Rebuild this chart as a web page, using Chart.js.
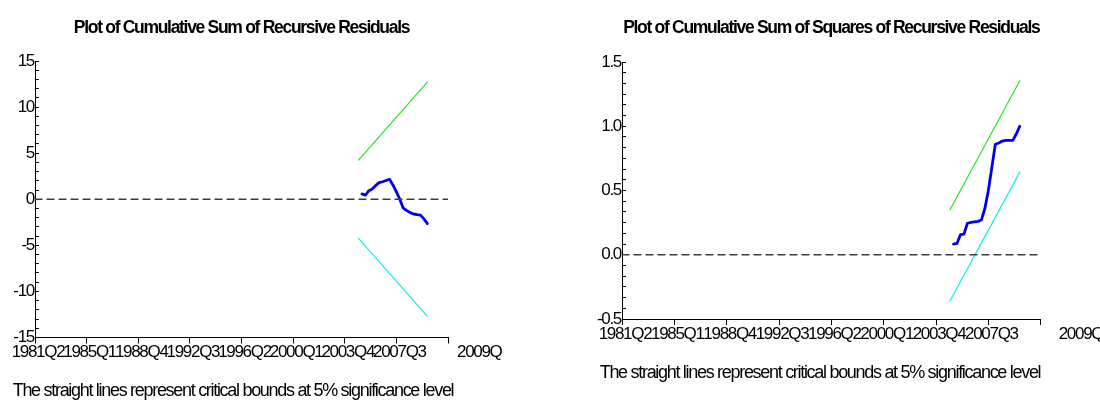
<!DOCTYPE html>
<html>
<head>
<meta charset="utf-8">
<script src="https://cdn.jsdelivr.net/npm/chart.js@4.4.1/dist/chart.umd.min.js"></script>
<style>
  html, body { margin: 0; padding: 0; background: #fff; }
  #wrap { display: flex; width: 1100px; height: 406px; }
  .box { position: relative; width: 550px; height: 406px; }
</style>
</head>
<body>
<div id="wrap">
  <div class="box"><canvas id="cusum"></canvas></div>
  <div class="box"><canvas id="cusumsq"></canvas></div>
</div>
<script>
/* CUSUM / CUSUMSQ stability plots */

const periods = [
  '2005Q1', '2005Q2', '2005Q3', '2005Q4', '2006Q1', '2006Q2', '2006Q3', '2006Q4',
  '2007Q1', '2007Q2', '2007Q3', '2007Q4', '2008Q1', '2008Q2', '2008Q3', '2008Q4',
  '2009Q1', '2009Q2', '2009Q3', '2009Q4',
];
const cusum = [
  0.58, 0.43, 0.93, 1.12, 1.5, 1.8, 1.9, 2.03, 2.17, 1.55,
  0.8, 0.0, -0.97, -1.22, -1.45, -1.6, -1.66, -1.72, -2.13, -2.65,
];
const cusumsq = [
  0.083, 0.088, 0.156, 0.16, 0.245, 0.252, 0.256, 0.26, 0.27, 0.36,
  0.5, 0.68, 0.86, 0.87, 0.885, 0.89, 0.89, 0.89, 0.94, 1.0,
];

// critical bounds (5%), endpoints
const boundPeriods = ['2004Q4', '2009Q4'];
const cusumUpper = [4.24, 12.7];
const cusumLower = [-4.24, -12.7];
const sqUpper = [0.35, 1.354];
const sqLower = [-0.36, 0.643];

const xTickLabels = ['1981Q2', '1985Q1', '1988Q4', '1992Q3', '1996Q2', '2000Q1', '2003Q4', '2007Q3'];
const xAxisEnd = '2011Q2';
const xEndLabel = '2009Q';

const titles = [
  'Plot of Cumulative Sum of Recursive Residuals',
  'Plot of Cumulative Sum of Squares of Recursive Residuals',
];
const caption = 'The straight lines represent critical bounds at 5% significance level';

function hasFont(name) {
  const c = document.createElement('canvas').getContext('2d');
  c.font = '40px monospace';
  const a = c.measureText('abcdefghiMW').width;
  c.font = `40px "${name}", monospace`;
  return c.measureText('abcdefghiMW').width !== a;
}
const NARROW = hasFont('Liberation Sans Narrow');
const FONT = NARROW ? '"Liberation Sans Narrow", "Liberation Sans", Arial, sans-serif'
                    : '"Liberation Sans", Arial, sans-serif';
const SPACING = NARROW ? '0px' : '-1.3px';

const TICK_SIZE = 17;
const CAP_SIZE = 18;
const TITLE_SIZE = 17.5;
const X_TICK_LEN = 6;
const X_TICK_PAD = -1;
const X_AXIS_H = 30;

// "2004Q4" -> quarters since 1981Q2
function qIndex(p) {
  return (parseInt(p.slice(0, 4), 10) - 1981) * 4 + (parseInt(p.slice(5), 10) - 2);
}
function pts(xs, ys) {
  return xs.map((p, i) => ({ x: qIndex(p), y: ys[i] }));
}

const decor = {
  id: 'decor',
  beforeDraw(chart) { chart.ctx.letterSpacing = SPACING; },
  afterDraw(chart, args, opts) {
    const { ctx, chartArea, scales } = chart;
    ctx.save();
    ctx.letterSpacing = SPACING;
    ctx.fillStyle = '#000';
    ctx.textBaseline = 'middle';
    ctx.textAlign = 'left';
    ctx.font = `${TICK_SIZE}px ${FONT}`;
    ctx.fillText(xEndLabel, chartArea.right + opts.endDx,
      scales.x.top + X_TICK_LEN + X_TICK_PAD + TICK_SIZE * 0.6);
    ctx.textAlign = 'center';
    ctx.font = `${CAP_SIZE}px ${FONT}`;
    ctx.fillText(caption, opts.capX, opts.capY);
    ctx.restore();
  },
};

function crearPlot(canvas, o) {
  const xMax = qIndex(xAxisEnd);
  const yTickValues = [];
  const n = Math.round((o.yMax - o.yMin) / o.yMinor);
  for (let i = 0; i <= n; i++) yTickValues.push(o.yMin + i * o.yMinor);
  const xTickValues = xTickLabels.map(qIndex).concat([xMax]);
  const titleY = 28;

  return new Chart(canvas, {
    type: 'line',
    data: {
      datasets: [
        {
          data: [{ x: 0, y: 0 }, { x: xMax, y: 0 }],
          borderColor: '#3c3c3c', borderWidth: 1.3, borderDash: [7, 5],
        },
        { data: pts(boundPeriods, o.upper), borderColor: '#22e622', borderWidth: 1.2 },
        { data: pts(boundPeriods, o.lower), borderColor: '#10eeee', borderWidth: 1.2 },
        { data: pts(periods, o.values), borderColor: '#0000f0', borderWidth: 2.8 },
      ],
    },
    options: {
      responsive: true,
      maintainAspectRatio: false,
      animation: false,
      events: [],
      elements: { point: { radius: 0 }, line: { tension: 0, borderJoinStyle: 'round', borderCapStyle: 'round' } },
      layout: {
        padding: {
          left: 0,
          top: 0,
          right: 550 - o.chartRight,
          bottom: 406 - o.chartBottom - X_AXIS_H,
        },
      },
      plugins: {
        legend: { display: false },
        tooltip: { enabled: false },
        title: {
          display: true,
          text: o.title,
          fullSize: false,
          color: '#000',
          font: { family: FONT, size: TITLE_SIZE, weight: 'bold', lineHeight: 1.2 },
          padding: { top: titleY - TITLE_SIZE * 0.6, bottom: o.chartTop - titleY - TITLE_SIZE * 0.6 },
        },
        decor: { endDx: o.endDx, capX: o.capX, capY: o.capY },
      },
      scales: {
        x: {
          type: 'linear',
          min: 0,
          max: xMax,
          afterBuildTicks(s) { s.ticks = xTickValues.map(v => ({ value: v })); },
          afterFit(s) { s.height = X_AXIS_H; },
          border: { color: '#000', width: 1 },
          grid: { drawOnChartArea: false, drawTicks: true, tickLength: X_TICK_LEN, color: '#000' },
          ticks: {
            autoSkip: false,
            maxRotation: 0,
            minRotation: 0,
            padding: X_TICK_PAD,
            labelOffset: 3,
            color: '#000',
            font: { family: FONT, size: TICK_SIZE, lineHeight: 1.2 },
            callback(v, i) { return i < xTickLabels.length ? xTickLabels[i] : ''; },
          },
        },
        y: {
          type: 'linear',
          min: o.yMin,
          max: o.yMax,
          afterBuildTicks(s) { s.ticks = yTickValues.map(v => ({ value: v })); },
          afterFit(s) { s.width = o.yAxisWidth; },
          border: { color: '#000', width: 1 },
          grid: { drawOnChartArea: false, drawTicks: true, tickLength: -4, color: '#000' },
          ticks: {
            autoSkip: false,
            padding: 5,
            color: '#000',
            font: { family: FONT, size: TICK_SIZE, lineHeight: 1.2 },
            callback(v) {
              const r = v / o.yLabelStep;
              return Math.abs(r - Math.round(r)) < 1e-6 ? Number(v).toFixed(o.decimals) : '';
            },
          },
        },
      },
    },
    plugins: [decor],
  });
}

crearPlot(document.getElementById('cusum'), {
  title: titles[0],
  values: cusum, upper: cusumUpper, lower: cusumLower,
  yMin: -15, yMax: 15, yMinor: 1, yLabelStep: 5, decimals: 0,
  yAxisWidth: 35, chartRight: 448, chartTop: 61, chartBottom: 337.5,
  endDx: 9, capX: 233, capY: 391,
});

crearPlot(document.getElementById('cusumsq'), {
  title: titles[1],
  values: cusumsq, upper: sqUpper, lower: sqLower,
  yMin: -0.5, yMax: 1.5, yMinor: 1 / 12, yLabelStep: 0.5, decimals: 1,
  yAxisWidth: 72, chartRight: 490.7, chartTop: 62, chartBottom: 319,
  endDx: 18, capX: 270, capY: 373,
});
</script>
</body>
</html>
